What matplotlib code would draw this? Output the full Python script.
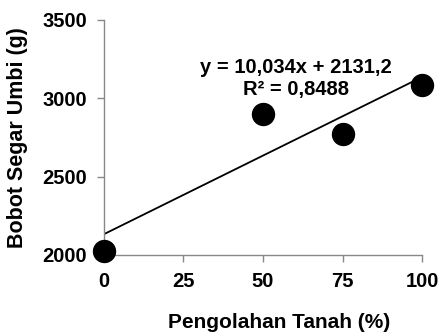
import matplotlib
matplotlib.use("Agg")
import matplotlib.pyplot as plt
import numpy as np

plt.rcParams['font.family'] = ['Liberation Sans', 'DejaVu Sans']
plt.rcParams['font.weight'] = 'bold'

x_vals = [0, 50, 75, 100]
y_vals = [2027, 2899, 2770, 3081]
slope = 10.034
intercept = 2131.2
x_ticks = [0, 25, 50, 75, 100]
y_ticks = [2000, 2500, 3000, 3500]
eq_text = "y = 10,034x + 2131,2\nR² = 0,8488"

fig = plt.figure(figsize=(4.4, 3.34), dpi=100)
ax = fig.add_axes([103.5/440, 1-255/334, (422.3-103.5)/440, (255-19.5)/334])

xl = np.array([0, 100])
ax.plot(xl, slope*xl + intercept, color='black', lw=1.3, zorder=2)
ax.scatter(x_vals, y_vals, s=250, color='black', zorder=3, clip_on=False)

ax.set_xlim(0, 100)
ax.set_ylim(2000, 3500)
ax.set_xticks(x_ticks)
ax.set_yticks(y_ticks)
ax.tick_params(axis='both', labelsize=14.5, color='#888888', length=5, width=1, direction='out')
ax.tick_params(axis='x', pad=7)
ax.tick_params(axis='y', pad=7)
for lbl in ax.get_xticklabels() + ax.get_yticklabels():
    lbl.set_fontweight('bold')
for s in ['top', 'right']:
    ax.spines[s].set_visible(False)
for s in ['left', 'bottom']:
    ax.spines[s].set_color('#888888')
    ax.spines[s].set_linewidth(1)

ax.set_xlabel("Pengolahan Tanah (%)", fontsize=15, fontweight='bold')
ax.xaxis.set_label_coords((279.5-103.5)/318.8, -(323-255)/235.5)
ax.xaxis.label.set_va('center')
ax.set_ylabel("Bobot Segar Umbi (g)", fontsize=15.5, fontweight='bold')
ax.yaxis.set_label_coords(-(103.5-18)/318.8, 0.5)
ax.yaxis.label.set_va('center')

ax.text(60.5, 3125, eq_text, ha='center', va='center', fontsize=14.5, fontweight='bold', linespacing=1.2)

fig.savefig("out.png", dpi=100)
